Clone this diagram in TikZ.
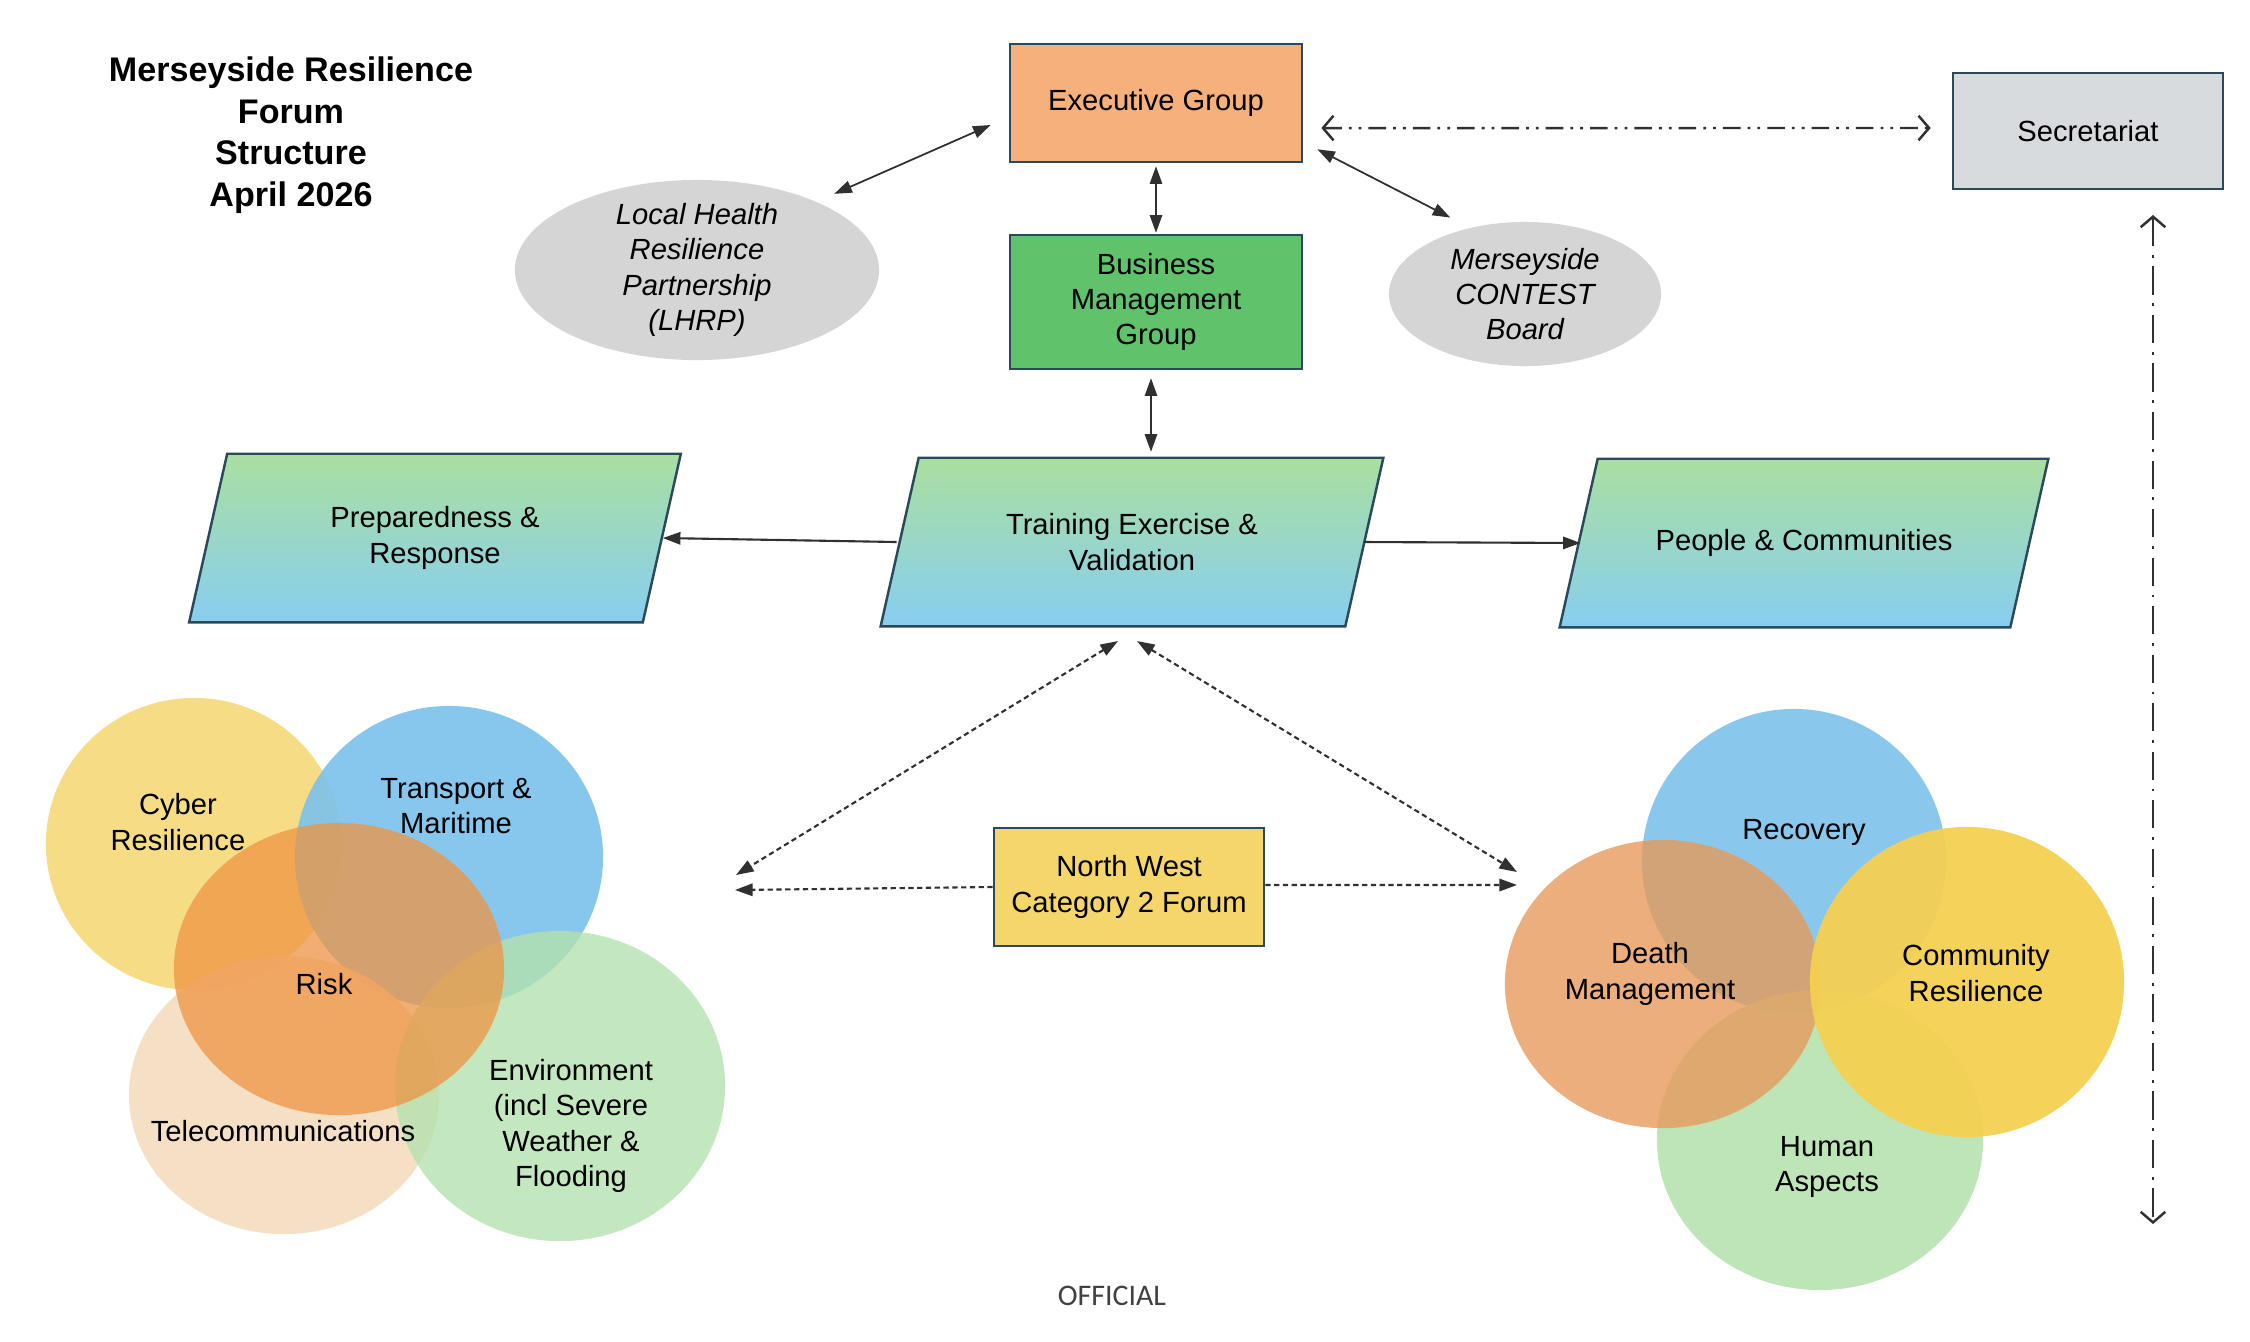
\documentclass[tikz,border=0pt]{standalone}
\usepackage{fontspec}
\setmainfont{Liberation Sans}
\newfontfamily\officialfont{Carlito}
\usetikzlibrary{shapes.geometric, arrows.meta, positioning, backgrounds}

\definecolor{frame}{HTML}{2A4A5C}
\definecolor{linegray}{HTML}{303030}
\definecolor{execorange}{HTML}{F6B07C}
\definecolor{bmgreen}{HTML}{60C36C}
\definecolor{secgray}{HTML}{D8DBDE}
\definecolor{blobgray}{HTML}{D5D5D5}
\definecolor{nwyellow}{HTML}{F4D66A}
\definecolor{paratop}{HTML}{AADFA0}
\definecolor{parabot}{HTML}{88CEF0}
\definecolor{cyberyellow}{HTML}{F6DA78}
\definecolor{transblue}{HTML}{7CC2EC}
\definecolor{riskorange}{HTML}{EE9443}
\definecolor{telebeige}{HTML}{F6DDBF}
\definecolor{envgreen}{HTML}{B4E2AE}
\definecolor{recblue}{HTML}{7DC3EB}
\definecolor{deathorange}{HTML}{E69A5C}
\definecolor{humangreen}{HTML}{B6E3B1}
\definecolor{comyellow}{HTML}{F5D052}

% slanted outline behind a named node
\newcommand\paraoutline[1]{%
  \shade[draw=frame, line width=0.7pt, top color=paratop, bottom color=parabot]
    ([xshift=0.19cm]#1.north west) -- ([xshift=0.19cm]#1.north east) --
    ([xshift=-0.19cm]#1.south east) -- ([xshift=-0.19cm]#1.south west) -- cycle;}

\begin{document}
\begin{tikzpicture}[x=0.01cm, y=-0.01cm, every node/.style={font=\fontsize{8.3}{10}\selectfont}]
\tikzset{
  box/.style={draw=frame, line width=0.7pt, minimum width=2.92cm, minimum height=1.18cm, align=center, inner sep=2pt},
  blob/.style={ellipse, fill=blobgray, inner sep=0pt},
  para/.style={align=center, minimum height=1.67cm, inner sep=0pt},
  venn/.style={ellipse, inner sep=0pt, fill opacity=0.9},
  vtext/.style={align=center},
  solidarrow/.style={{Triangle[length=5pt,width=3.5pt]}-{Triangle[length=5pt,width=3.5pt]}, line width=0.5pt, draw=linegray},
  oneway/.style={-{Triangle[length=5pt,width=3.5pt]}, line width=0.6pt, draw=linegray},
  dotarrow/.style={line width=0.6pt, draw=linegray, dash pattern=on 1.5pt off 1pt},
  secarrow/.style={{Straight Barb[length=3pt,width=7pt]}-{Straight Barb[length=3pt,width=7pt]}, line width=0.7pt, draw=linegray}
}
\useasboundingbox (0,0) rectangle (2250,1341);

% title
\node[font=\bfseries\fontsize{9.7}{11.8}\selectfont, align=center] (title) at (291,135) {Merseyside Resilience\\Forum\\Structure\\April 2026};

% top boxes
\node[box, fill=execorange] (exec) at (1156,103) {Executive Group};
\node[box, fill=bmgreen, minimum height=1.34cm] (bm) at (1156,302) {Business\\Management\\Group};
\node[box, fill=secgray, minimum width=2.70cm, minimum height=1.16cm] (sec) at (2088,131) {Secretariat};
\node[blob, minimum width=3.64cm, minimum height=1.80cm,
  label={[align=center, font=\itshape\fontsize{8.3}{10}\selectfont]center:Local Health\\Resilience\\Partnership\\(LHRP)}] (lhrp) at (697,270) {};
\node[blob, minimum width=2.72cm, minimum height=1.44cm,
  label={[align=center, font=\itshape\fontsize{8.3}{10}\selectfont]center:Merseyside\\CONTEST\\Board}] (contest) at (1525,294) {};

% middle row
\node[para, minimum width=4.52cm] (prep) at (435,538) {Preparedness \&\\Response};
\node[para, minimum width=4.63cm] (train) at (1132,542) {Training Exercise \&\\Validation};
\node[para, minimum width=4.49cm] (people) at (1804,543) {People \& Communities};
\node[box, fill=nwyellow, minimum width=2.70cm] (nw) at (1129,887) {North West\\Category 2 Forum};

\begin{scope}[on background layer]
\fill[white] (0,0) rectangle (2250,1341);
\paraoutline{prep}
\paraoutline{train}
\paraoutline{people}
\end{scope}

% left cluster
\node[venn, fill=cyberyellow, minimum width=2.96cm, minimum height=2.92cm] (cyber) at (194,844) {};
\node[venn, fill=transblue, minimum width=3.08cm, minimum height=3.02cm] (trans) at (449,857) {};
\node[venn, fill=telebeige, minimum width=3.10cm, minimum height=2.78cm] (tele) at (284,1095) {};
\node[venn, fill=envgreen, fill opacity=0.8, minimum width=3.30cm, minimum height=3.10cm] (env) at (560,1086) {};
\node[venn, fill=riskorange, fill opacity=0.75, minimum width=3.30cm, minimum height=2.92cm] (risk) at (339,969) {};
\node[vtext] (cyber-t) at (178,822) {Cyber\\Resilience};
\node[vtext] (trans-t) at (456,806) {Transport \&\\Maritime};
\node[vtext] (risk-t) at (324,984) {Risk};
\node[vtext] (tele-t) at (283,1131) {Telecommunications};
\node[vtext] (env-t) at (571,1126) {Environment\\(incl Severe\\Weather \&\\Flooding};

% right cluster
\node[venn, fill=recblue, minimum width=3.04cm, minimum height=3.04cm] (rec) at (1794,861) {};
\node[venn, fill=humangreen, minimum width=3.26cm, minimum height=3.00cm] (human) at (1820,1140) {};
\node[venn, fill=deathorange, fill opacity=0.8, minimum width=3.16cm, minimum height=2.88cm] (death) at (1663,984) {};
\node[venn, fill=comyellow, fill opacity=0.95, minimum width=3.14cm, minimum height=3.10cm] (com) at (1967,982) {};
\node[vtext] (rec-t) at (1804,832) {Recovery};
\node[vtext] (death-t) at (1650,974) {Death\\Management};
\node[vtext] (com-t) at (1976,973) {Community\\Resilience};
\node[vtext] (human-t) at (1827,1167) {Human\\Aspects};

\node[font=\officialfont\fontsize{8.5}{10}\selectfont, text=black!75] (official) at (1112,1296) {OFFICIAL};

% free ends
\coordinate (trainL) at (1118,641);
\coordinate (trainR) at (1137,641);
\coordinate (leftEnd) at (736,875);
\coordinate (rightEnd) at (1517,872);
\coordinate (leftMid) at (735,890);
\coordinate (rightMid) at (1517,885);
\coordinate (secTop) at (2153,215);
\coordinate (secBot) at (2153,1224);

% solid connectors
\draw[solidarrow] ([xshift=0.08cm,yshift=0.12cm]lhrp.north east) -- ([xshift=-0.18cm,yshift=-0.22cm]exec.west);
\draw[solidarrow] ([xshift=0.14cm,yshift=0.14cm]exec.south east) -- ([xshift=0.22cm,yshift=0.25cm]contest.north west);
\draw[solidarrow] ([yshift=-0.03cm]exec.south) -- ([yshift=0.01cm]bm.north);
\draw[solidarrow] ([xshift=-0.05cm,yshift=-0.08cm]bm.south) -- ([xshift=-0.05cm,yshift=0.06cm]bm.south |- train.north);
\draw[oneway] ([xshift=-0.03cm]train.west) -- ([xshift=0.01cm]prep.east);
\draw[oneway] (train.east) -- ([xshift=0.02cm]people.west);

% dotted connectors
\draw[dotarrow, {Triangle[length=5pt,width=3.5pt]}-{Triangle[length=5pt,width=3.5pt]}] (trainL) -- (leftEnd);
\draw[dotarrow, {Triangle[length=5pt,width=3.5pt]}-{Triangle[length=5pt,width=3.5pt]}] (trainR) -- (rightEnd);
\draw[dotarrow, -{Triangle[length=5pt,width=3.5pt]}] (nw.west) -- (leftMid);
\draw[dotarrow, -{Triangle[length=5pt,width=3.5pt]}] ([yshift=0.02cm]nw.east) -- (rightMid);

% secretariat links
\draw[secarrow, dash pattern=on 5pt off 2pt on 0.8pt off 2pt on 0.8pt off 2pt] ([xshift=0.18cm,yshift=-0.25cm]exec.east) -- ([xshift=-0.21cm,yshift=0.03cm]sec.west);
\draw[secarrow, dash pattern=on 8pt off 2.5pt on 0.8pt off 2.5pt] (secTop) -- (secBot);
\end{tikzpicture}
\end{document}
